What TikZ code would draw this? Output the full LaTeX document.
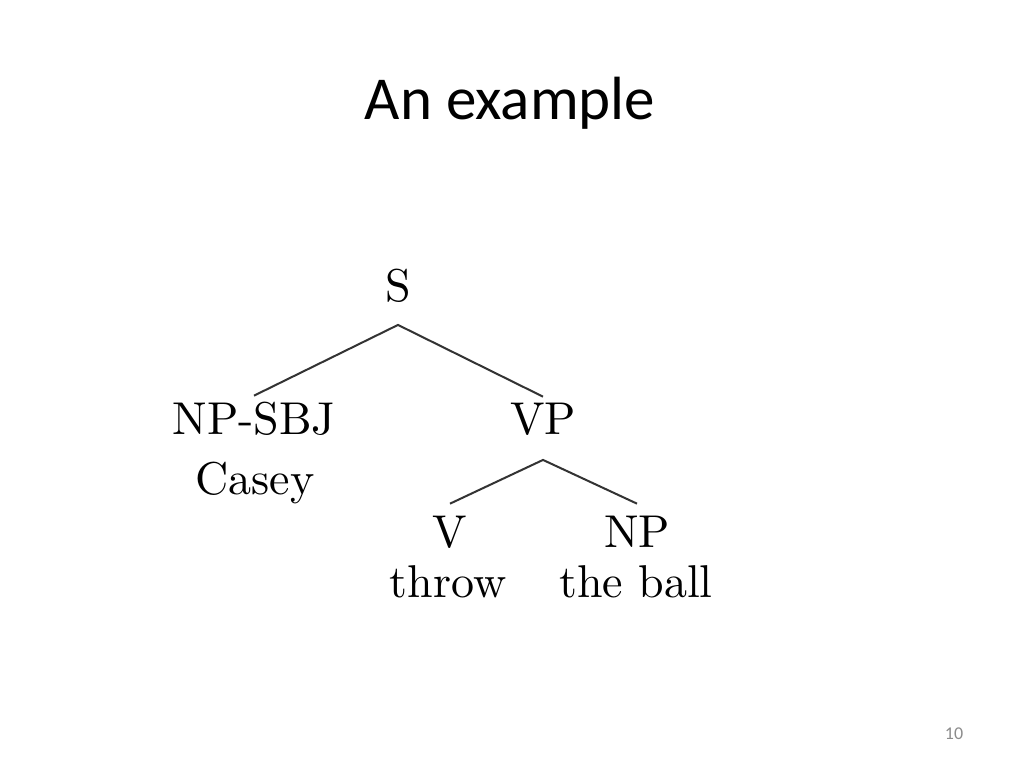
\documentclass[tikz,border=0pt]{standalone}
\usepackage{fontspec}
\newfontfamily\slidefont{Carlito}
\tikzset{
  treelabel/.style={font=\fontsize{10}{12}\selectfont, scale=4.6, inner sep=0pt, anchor=base, text=black},
  treeedge/.style={draw=black!80, line width=2pt}
}
\begin{document}
\begin{tikzpicture}[x=1pt, y=1pt]
  \useasboundingbox[fill=white] (0,0) rectangle (1024,768);

  % Title
  \node[font=\slidefont\fontsize{61}{70}\selectfont, anchor=base, inner sep=0pt] (title) at (510,648) {An example};

  % Root
  \node[treelabel] (S) at (398,466) {S};

  % First level
  \node[treelabel] (npsbj) at (254,333) {NP-SBJ};
  \node[treelabel] (casey) at (255,273) {Casey};
  \node[treelabel] (vp) at (543,333) {VP};

  % Second level
  \node[treelabel] (v) at (450,220) {V};
  \node[treelabel] (throw) at (448,171) {throw};
  \node[treelabel] (np) at (637,220) {NP};
  \node[treelabel] (theball) at (636,171) {the ball};

  % Edges
  \coordinate (Sroot) at ([yshift=-21pt]S.south);
  \coordinate (vproot) at ([yshift=-23pt]vp.south);
  \draw[treeedge] ([yshift=6pt]npsbj.north) -- (Sroot) -- ([yshift=6pt]vp.north);
  \draw[treeedge] ([yshift=12pt]v.north) -- (vproot) -- ([yshift=12pt]np.north);

  % Page number
  \node[font=\slidefont\fontsize{18}{20}\selectfont, anchor=base, inner sep=0pt, text=black!45] (pagenum) at (954,29) {10};
\end{tikzpicture}
\end{document}
